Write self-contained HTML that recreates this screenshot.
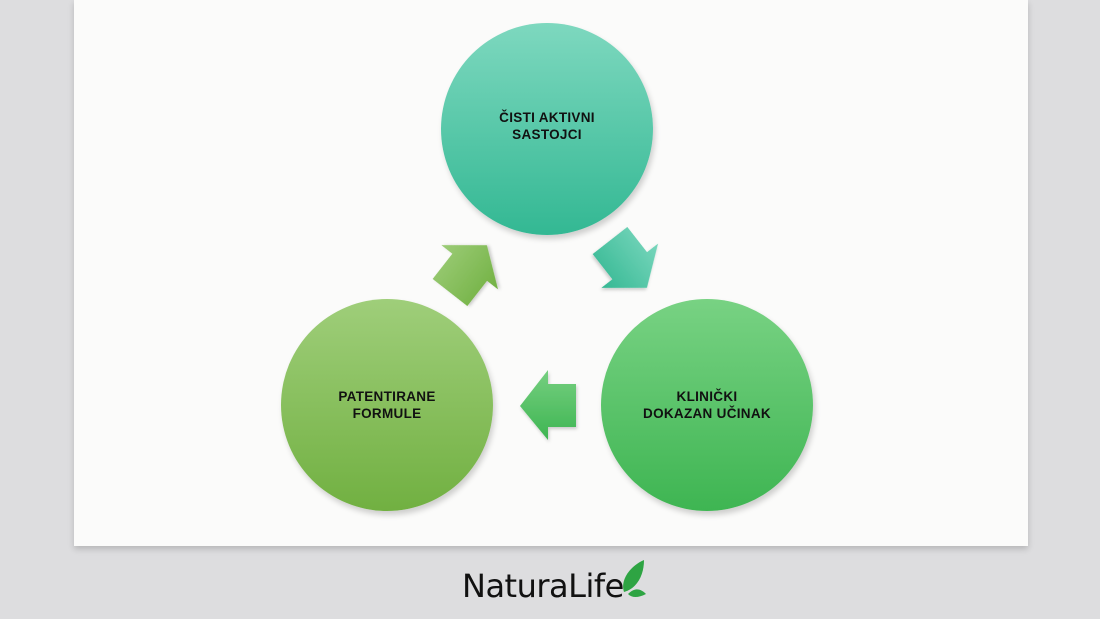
<!DOCTYPE html>
<html><head><meta charset="utf-8"><style>
body{margin:0;width:1100px;height:619px;background:#dddddf;position:relative;overflow:hidden;font-family:"Liberation Sans","DejaVu Sans",sans-serif}
.paper{position:absolute;left:74px;top:0;width:954px;height:546px;background:#fbfbfa;box-shadow:0 3px 6px rgba(0,0,0,0.18)}
.c{position:absolute;width:212px;height:212px;border-radius:50%;display:flex;align-items:center;justify-content:center;text-align:center;font-weight:bold;font-size:13.5px;line-height:17px;color:#111;box-shadow:2px 4px 6px rgba(0,0,0,0.18);letter-spacing:0.3px}
.logo{position:absolute;left:462px;top:567px;font-size:32px;color:#111;font-family:"DejaVu Sans","Liberation Sans",sans-serif;letter-spacing:-0.5px}
</style></head><body>
<div class="paper"></div>
<div class="c" style="left:441px;top:23px;background:linear-gradient(#7ed8bf,#33b893)"><div style="margin-top:-6px">ČISTI AKTIVNI<br>SASTOJCI</div></div>
<div class="c" style="left:601px;top:299px;background:linear-gradient(#78d283,#3eb552)"><div>KLINIČKI<br>DOKAZAN UČINAK</div></div>
<div class="c" style="left:281px;top:299px;background:linear-gradient(#9fce7a,#71b041)"><div>PATENTIRANE<br>FORMULE</div></div>
<svg width="1100" height="619" style="position:absolute;left:0;top:0">
<defs>
<linearGradient id="g1" x1="0" y1="0" x2="0" y2="1"><stop offset="0" stop-color="#76cf80"/><stop offset="1" stop-color="#3eb552"/></linearGradient>
<linearGradient id="g2" x1="0" y1="0" x2="0" y2="1"><stop offset="0" stop-color="#9ccc77"/><stop offset="1" stop-color="#72b143"/></linearGradient>
<linearGradient id="g3" x1="0" y1="0" x2="0" y2="1"><stop offset="0" stop-color="#78d6bc"/><stop offset="1" stop-color="#35b893"/></linearGradient>
<filter id="s"><feDropShadow dx="1" dy="2" stdDeviation="1.5" flood-opacity="0.2"/></filter>
</defs>
<polygon filter="url(#s)" fill="url(#g1)" points="520,406 548,370 548,384 576,384 576,427 548,427 548,440"/>
<polygon filter="url(#s)" fill="url(#g2)" transform="translate(466,272) rotate(-52)" points="34,0 6,-36 6,-22 -26,-22 -26,22 6,22 6,36"/>
<polygon filter="url(#s)" fill="url(#g3)" transform="translate(626,261) rotate(52)" points="34,0 6,-36 6,-22 -26,-22 -26,22 6,22 6,36"/>
<g transform="translate(632,578)">
<path d="M-8,14 C-12,2 -2,-12 12,-18 C12,-4 6,10 -8,14Z" fill="#2ea443"/>
<path d="M-4,16 C4,8 10,12 14,16 C6,20 0,20 -4,16Z" fill="#2ea443"/>
</g>
</svg>
<div class="logo">NaturaLife</div>
</body></html>
